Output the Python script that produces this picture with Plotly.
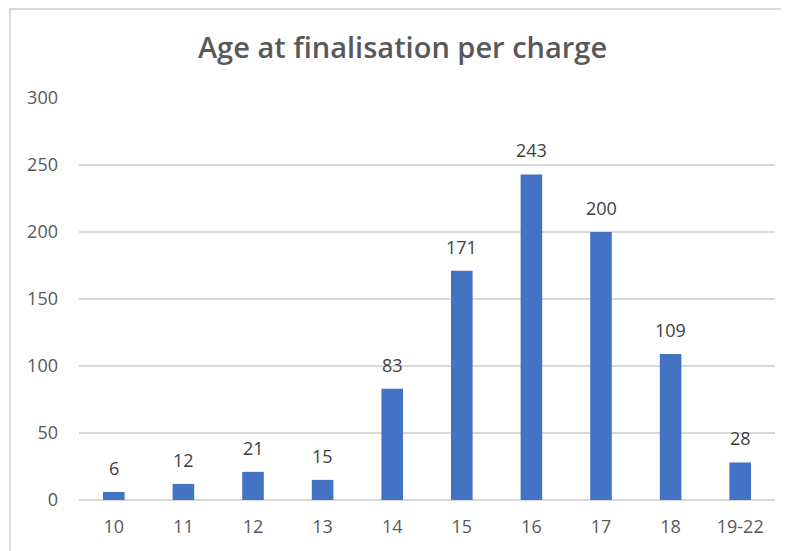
import plotly.graph_objects as go

categories = ["10", "11", "12", "13", "14", "15", "16", "17", "18", "19-22"]
counts = [6, 12, 21, 15, 83, 171, 243, 200, 109, 28]
y_ticks = [0, 50, 100, 150, 200, 250, 300]

FONT = "Open Sans"
TEXT = "#595959"

fig = go.Figure()
fig.add_trace(go.Bar(
    x=categories, y=counts,
    marker=dict(color="#4472C4", line=dict(width=0)),
    hoverinfo="x+y",
))

for i, v in enumerate(counts):
    fig.add_annotation(x=i, y=v, text=str(v), showarrow=False,
                       xref="x", yref="y",
                       yanchor="bottom", yshift=10,
                       font=dict(family=FONT, size=18, color="#404040"))

# outer chart border
fig.add_shape(type="rect", xref="paper", yref="paper",
              x0=-0.0991, x1=1.05, y0=-0.2, y1=1.2214,
              line=dict(color="#d9d9d9", width=2), layer="below")

fig.update_layout(
    width=789, height=551,
    margin=dict(l=71, r=22, t=90, b=59),
    paper_bgcolor="white", plot_bgcolor="white",
    bargap=0.69,
    showlegend=False,
    title=dict(text="Age at finalisation per charge", x=0.5, xanchor="center",
               y=1 - 40/551, yanchor="middle",
               font=dict(family=FONT, size=29, color=TEXT, weight=600)),
    font=dict(family=FONT, size=18, color=TEXT),
    xaxis=dict(type="category", range=[-0.5, 9.5], showgrid=False, showline=False,
               zeroline=False, ticks="", ticklabelstandoff=14,
               tickfont=dict(family=FONT, size=18, color=TEXT)),
    yaxis=dict(range=[0, 300], tickvals=y_ticks, showgrid=True,
               gridcolor="#d9d9d9", gridwidth=1.5, zeroline=True,
               zerolinecolor="#d9d9d9", zerolinewidth=1.5, showline=False,
               ticks="", ticklabelstandoff=20,
               tickfont=dict(family=FONT, size=18, color=TEXT)),
)

fig.write_html("out.html")
